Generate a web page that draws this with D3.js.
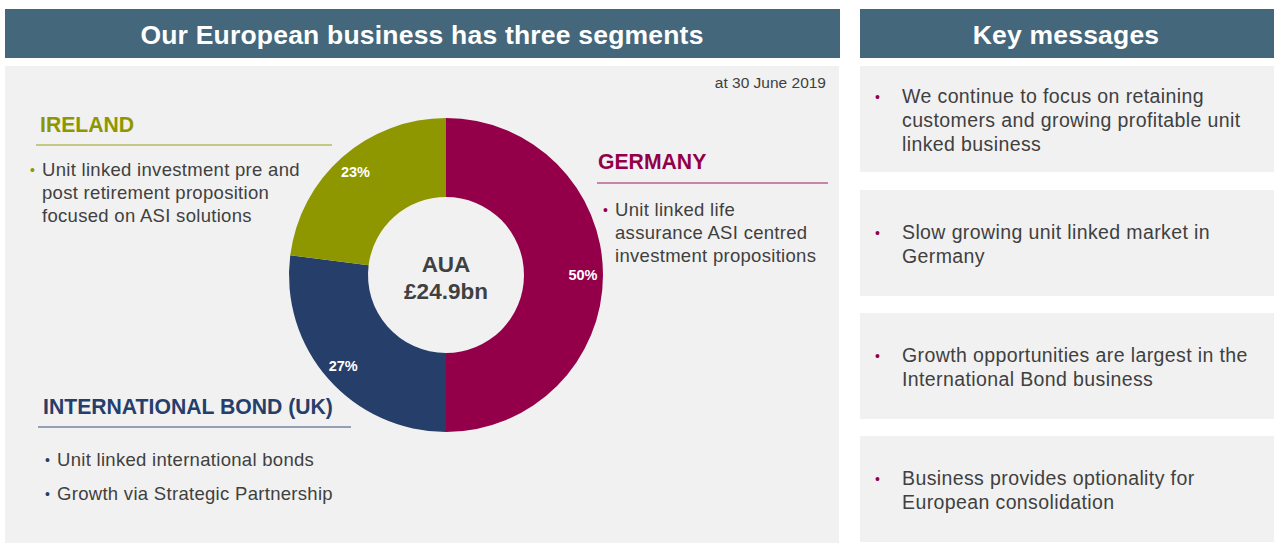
<html lang="en">
<head>
<meta charset="utf-8">
<script src="https://d3js.org/d3.v7.min.js"></script>
<style>
  body { margin: 0; background: white; }
  text { font-family: "Liberation Sans", Arial, sans-serif; }
</style>
</head>
<body>
<script>

// data
var segments = ["Germany", "International Bond (UK)", "Ireland"];
var shares = [50, 27, 23];
var segColors = ["#930049", "#253e6a", "#8e9600"];
var totalLabel = ["AUA", "£24.9bn"];
var dateLabel = "at 30 June 2019";

var segTitles = ["GERMANY", "INTERNATIONAL BOND (UK)", "IRELAND"];
var segBullets = [
  [["Unit linked life", "assurance ASI centred", "investment propositions"]],
  [["Unit linked international bonds"], ["Growth via Strategic Partnership"]],
  [["Unit linked investment pre and", "post retirement proposition", "focused on ASI solutions"]]
];

var keyMessages = [
  ["We continue to focus on retaining", "customers and growing profitable unit", "linked business"],
  ["Slow growing unit linked market in", "Germany"],
  ["Growth opportunities are largest in the", "International Bond business"],
  ["Business provides optionality for", "European consolidation"]
];

var w = 1276, h = 554;
var headerFill = "#44677b";
var panelFill = "#f1f1f1";
var textCol = "#404040";

var svg = d3.select("body").append("svg")
    .attr("width", w)
    .attr("height", h);

// headers
svg.append("rect").attr("x", 5).attr("y", 9).attr("width", 835).attr("height", 49).attr("fill", headerFill);
svg.append("text").attr("x", 422).attr("y", 44).attr("text-anchor", "middle")
    .attr("fill", "white").attr("font-size", 26.5).attr("font-weight", "bold")
    .attr("letter-spacing", 0.2)
    .text("Our European business has three segments");

svg.append("rect").attr("x", 860).attr("y", 9).attr("width", 414).attr("height", 49).attr("fill", headerFill);
svg.append("text").attr("x", 1066).attr("y", 44).attr("text-anchor", "middle")
    .attr("fill", "white").attr("font-size", 26.5).attr("font-weight", "bold")
    .attr("letter-spacing", 0.2)
    .text("Key messages");

// left panel
svg.append("rect").attr("x", 5).attr("y", 66).attr("width", 834).attr("height", 477).attr("fill", panelFill);

svg.append("text").attr("x", 826).attr("y", 88).attr("text-anchor", "end")
    .attr("fill", textCol).attr("font-size", 15.5).text(dateLabel);

// donut
var cx = 446, cy = 275, rOuter = 157, rInner = 78;
var pie = d3.pie().sort(null).value(d => d);
var arcs = pie(shares);
var arc = d3.arc().innerRadius(rInner).outerRadius(rOuter);
var labelArc = d3.arc().innerRadius(137).outerRadius(137);

var donut = svg.append("g").attr("transform", `translate(${cx},${cy})`);
donut.selectAll("path").data(arcs).enter().append("path")
    .attr("d", arc)
    .attr("fill", (d, i) => segColors[i]);

donut.selectAll("text.pct").data(arcs).enter().append("text")
    .attr("class", "pct")
    .attr("transform", d => `translate(${labelArc.centroid(d)})`)
    .attr("text-anchor", "middle")
    .attr("dy", "0.35em")
    .attr("fill", "white").attr("font-size", 14.5).attr("font-weight", "bold")
    .text(d => d.data + "%");

donut.selectAll("text.total").data(totalLabel).enter().append("text")
    .attr("class", "total")
    .attr("x", 0).attr("y", (d, i) => -3 + i * 27)
    .attr("text-anchor", "middle")
    .attr("fill", textCol).attr("font-size", 22.5).attr("font-weight", "bold")
    .text(d => d);

// segment descriptions
var segLayout = [
  {x: 598, y: 169, x1: 597, x2: 828, lineY: 183, bx: 603, tx: 615, ty: 216, gap: 23},
  {x: 43, y: 414, x1: 38, x2: 351, lineY: 427, bx: 45, tx: 57, ty: 466, gap: 34},
  {x: 40, y: 132, x1: 36, x2: 332, lineY: 145, bx: 30, tx: 42, ty: 176, gap: 23}
];

segTitles.forEach(function(t, i) {
  var L = segLayout[i];
  svg.append("text").attr("x", L.x).attr("y", L.y)
      .attr("fill", segColors[i]).attr("font-size", 21.2).attr("font-weight", "bold")
      .text(t);
  svg.append("line").attr("x1", L.x1).attr("x2", L.x2).attr("y1", L.lineY).attr("y2", L.lineY)
      .attr("stroke", segColors[i]).attr("stroke-opacity", 0.6).attr("stroke-width", 1.5);
  var yy = L.ty;
  segBullets[i].forEach(function(b) {
    svg.append("text").attr("x", L.bx).attr("y", yy - 1)
        .attr("fill", segColors[i]).attr("font-size", 14).text("•");
    b.forEach(function(line, j) {
      svg.append("text").attr("x", L.tx).attr("y", yy + j * 23)
          .attr("fill", textCol).attr("font-size", 18.5).attr("letter-spacing", 0.3)
          .text(line);
    });
    yy += L.gap;
  });
});

// key messages
var boxTop = [66, 190, 313, 436];
keyMessages.forEach(function(lines, i) {
  var y0 = boxTop[i];
  svg.append("rect").attr("x", 860).attr("y", y0).attr("width", 414).attr("height", 106).attr("fill", panelFill);
  var ty = (lines.length == 3) ? y0 + 37 : y0 + 49;
  svg.append("text").attr("x", 875).attr("y", ty - 1)
      .attr("fill", "#930049").attr("font-size", 14).text("•");
  lines.forEach(function(line, j) {
    svg.append("text").attr("x", 902).attr("y", ty + j * 24)
        .attr("fill", textCol).attr("font-size", 19.5).attr("letter-spacing", 0.39)
        .text(line);
  });
});

</script>
</body>
</html>
